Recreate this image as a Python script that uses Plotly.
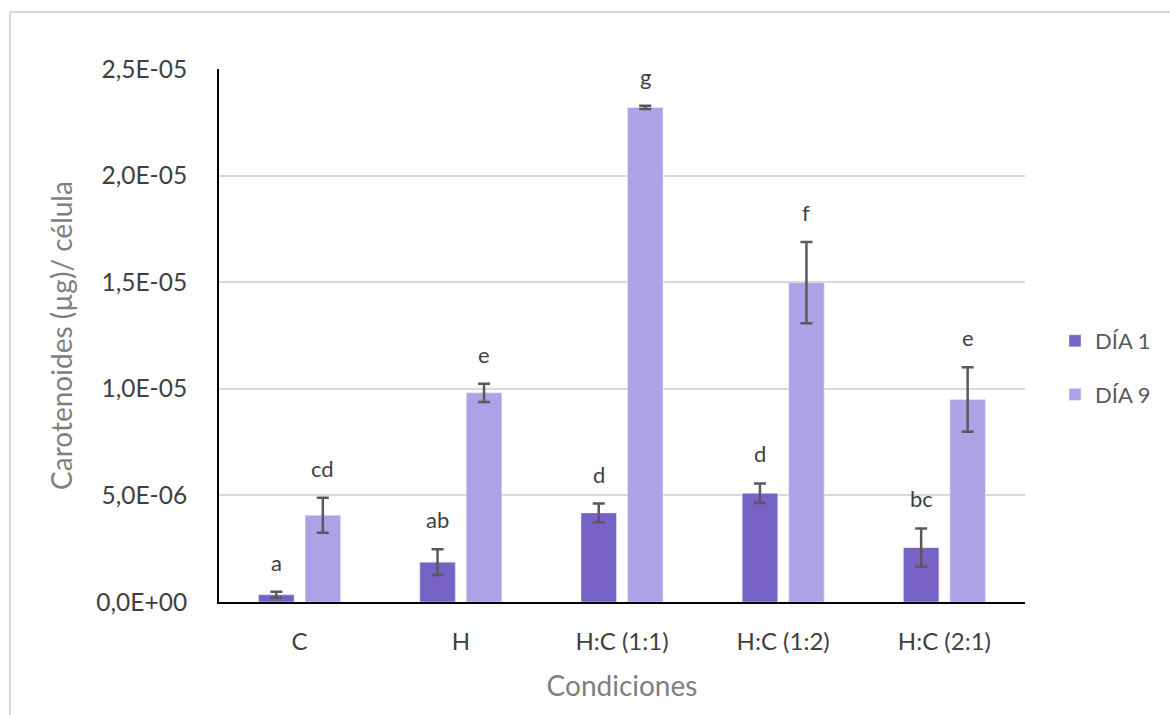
import plotly.graph_objects as go

categories = ["C", "H", "H:C (1:1)", "H:C (1:2)", "H:C (2:1)"]
dia1 = [0.34e-6, 1.87e-6, 4.18e-6, 5.10e-6, 2.55e-6]
dia1_err = [0.14e-6, 0.60e-6, 0.44e-6, 0.46e-6, 0.90e-6]
dia9 = [4.07e-6, 9.81e-6, 23.2e-6, 14.98e-6, 9.50e-6]
dia9_err = [0.82e-6, 0.43e-6, 0.08e-6, 1.91e-6, 1.51e-6]
dia1_letters = ["a", "ab", "d", "d", "bc"]
dia9_letters = ["cd", "e", "g", "f", "e"]
y_tickvals = [0, 5e-6, 1e-5, 1.5e-5, 2e-5, 2.5e-5]
y_ticktext = ["0,0E+00", "5,0E-06", "1,0E-05", "1,5E-05", "2,0E-05", "2,5E-05"]

FONT = "Lato, 'Open Sans', sans-serif"
C1 = "#7762C5"
C9 = "#ADA2E6"
ERRC = "#595959"

fig = go.Figure()
fig.add_trace(go.Bar(
    name="DÍA 1", x=categories, y=dia1, marker_color=C1, legendgroup="d1",
    error_y=dict(type="data", array=dia1_err, visible=True, color=ERRC, thickness=2.5, width=6),
))
fig.add_trace(go.Bar(
    name="DÍA 9", x=categories, y=dia9, marker_color=C9, legendgroup="d9",
    error_y=dict(type="data", array=dia9_err, visible=True, color=ERRC, thickness=2.5, width=6),
))

L, R, T, B = 219, 145, 69, 113
W, H = 1170, 715
pw = W - L - R
slot_px = pw / len(categories) * (1 - 0.423) / 2

annotations = []
for i, cat in enumerate(categories):
    for vals, errs, letters, sgn in ((dia1, dia1_err, dia1_letters, -1), (dia9, dia9_err, dia9_letters, 1)):
        annotations.append(dict(
            x=cat, y=vals[i] + errs[i], text=letters[i], showarrow=False,
            xref="x", yref="y", xshift=sgn * slot_px / 2, yanchor="bottom", yshift=14,
            font=dict(family=FONT, size=22, color="#404040"),
        ))

ph = H - T - B
fig.update_layout(
    width=W, height=H,
    margin=dict(l=L, r=R, t=T, b=B, pad=0),
    paper_bgcolor="white", plot_bgcolor="white",
    barmode="group", bargap=0.423, bargroupgap=0.237,
    font=dict(family=FONT, color="#595959"),
    xaxis=dict(
        showline=True, linecolor="black", linewidth=2, showgrid=False,
        ticks="", ticklabelstandoff=17,
        tickfont=dict(family=FONT, size=24, color="#404040"),
        title=dict(text="Condiciones", font=dict(family=FONT, size=28, color="#7f7f7f"), standoff=23),
    ),
    yaxis=dict(
        range=[0, 2.5e-5], tickvals=y_tickvals, ticktext=y_ticktext,
        showline=True, linecolor="black", linewidth=2,
        showgrid=True, gridcolor="#d9d9d9", gridwidth=2, zeroline=False,
        ticks="", ticklabelstandoff=25,
        tickfont=dict(family=FONT, size=24.5, color="#404040"),
        title=dict(text="Carotenoides (µg)/ célula", font=dict(family=FONT, size=28, color="#7f7f7f"), standoff=16),
    ),
    legend=dict(
        x=(1055 - L) / pw, y=(H - B - 320) / ph, xanchor="left", yanchor="top",
        font=dict(family=FONT, size=22, color="#595959"),
        tracegroupgap=22, bgcolor="rgba(0,0,0,0)",
    ),
    annotations=annotations,
    shapes=[dict(
        type="rect", xref="paper", yref="paper",
        x0=(10 - L) / pw, x1=(W + 20 - L) / pw,
        y0=(H - B - (H + 20)) / ph, y1=(H - B - 12) / ph,
        line=dict(color="#d9d9d9", width=2), fillcolor="rgba(0,0,0,0)", layer="below",
    )],
)

fig.write_html("out.html", config={"displayModeBar": False},
               post_script="document.body.style.margin='0';")
